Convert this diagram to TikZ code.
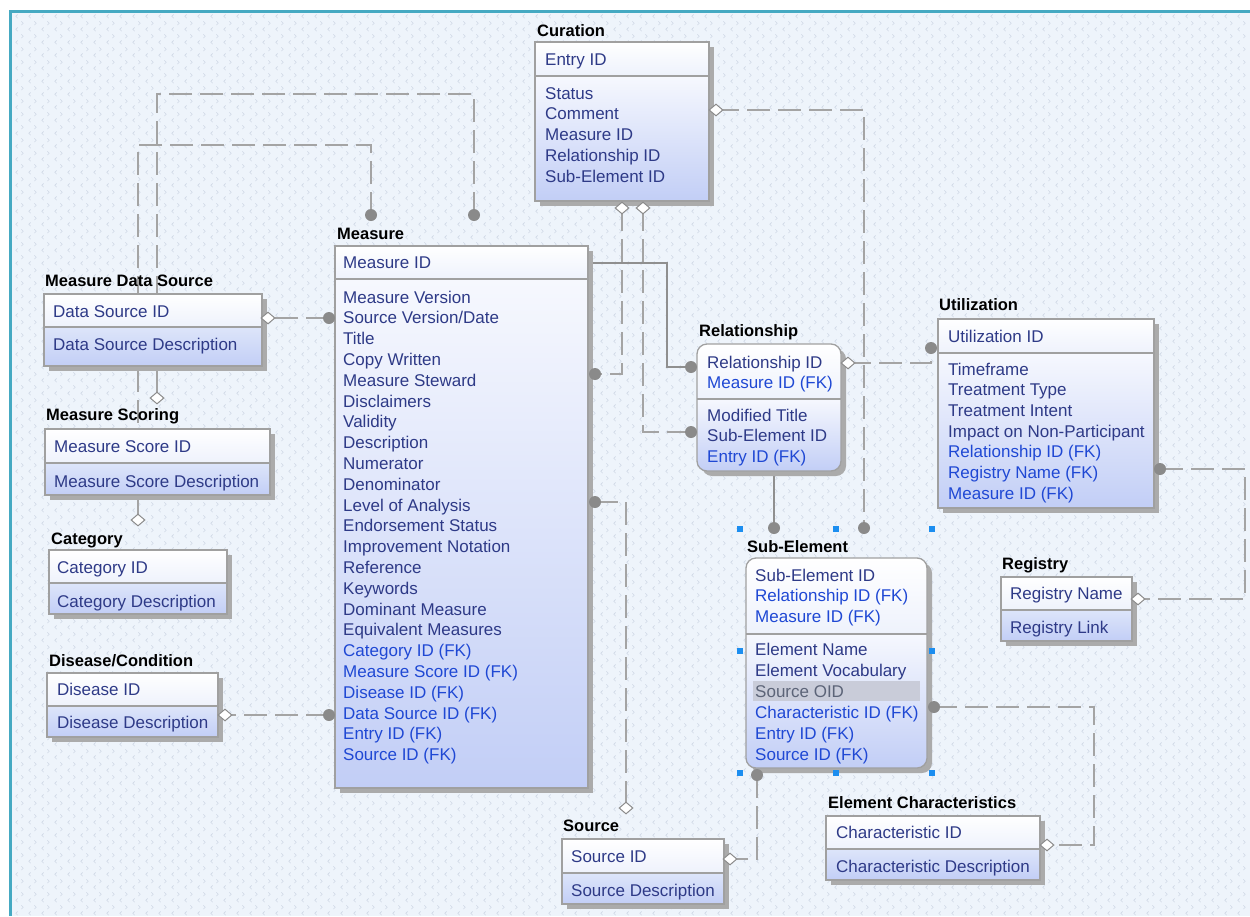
\documentclass[tikz,border=0pt]{standalone}
\usepackage{fontspec}
\setmainfont{Liberation Sans}
\usetikzlibrary{shapes.geometric,patterns}
\definecolor{bgc}{HTML}{EEF4FB}
\definecolor{patc}{HTML}{D0D9E6}
\definecolor{framec}{HTML}{45A9C2}
\definecolor{attrc}{HTML}{2E3A87}
\definecolor{fkc}{HTML}{1F48D4}
\definecolor{oidc}{HTML}{5C6478}
\definecolor{oidbg}{HTML}{C9CCD9}
\definecolor{linec}{HTML}{A4A4A4}
\definecolor{solidc}{HTML}{8F8F8F}
\definecolor{dotc}{HTML}{8A8A8A}
\definecolor{diac}{HTML}{8C8C8C}
\definecolor{boxc}{HTML}{A0A0A0}
\definecolor{shadc}{HTML}{ABABAB}
\definecolor{attrbot}{HTML}{C2CEF6}
\definecolor{keybot}{HTML}{EEF2FC}
\definecolor{bigtop}{HTML}{F6F8FE}
\definecolor{smalltop}{HTML}{DDE5FA}
\definecolor{hdlc}{HTML}{1C8EF0}
\pgfdeclarepatternformonly{chev}{\pgfpoint{0pt}{0pt}}{\pgfpoint{13pt}{13pt}}{\pgfpoint{13pt}{13pt}}{%
  \pgfsetlinewidth{0.7pt}%
  \pgfpathmoveto{\pgfpoint{5pt}{2pt}}\pgfpathlineto{\pgfpoint{3pt}{4pt}}\pgfpathlineto{\pgfpoint{5pt}{6pt}}%
  \pgfpathmoveto{\pgfpoint{9pt}{8.5pt}}\pgfpathlineto{\pgfpoint{11pt}{10.5pt}}\pgfpathlineto{\pgfpoint{9pt}{12.5pt}}%
  \pgfusepath{stroke}}
\newcommand\fk[1]{\textcolor{fkc}{#1}}
\newcommand\gry[1]{\textcolor{oidc}{#1}}
\newcommand\erbox[8]{%
  \fill[shadc, rounded corners=#6] (#1+5,#2+5) rectangle (#3+5,#5+5);
  \begin{scope}
    \clip[rounded corners=#6] (#1,#2) rectangle (#3,#5);
    \fill[top color=white, bottom color=#7] (#1,#2) rectangle (#3,#4);
    \fill[top color=#8, bottom color=attrbot] (#1,#4) rectangle (#3,#5);
  \end{scope}
  \draw[boxc, line width=1.3pt, rounded corners=#6] (#1,#2) rectangle (#3,#5);
  \draw[boxc, line width=1.3pt] (#1,#4) -- (#3,#4);
}
\newcommand\errows[5]{%
  \foreach \t [count=\i from 0] in {#5} {\node[row] (#1\i) at (#2,#3+#4*\i) {\t};}
}
\tikzset{
  fkline/.style={draw=linec, line width=2pt, dash pattern=on 23pt off 8pt},
  idline/.style={draw=solidc, line width=1.6pt},
  dotm/.style={circle, fill=dotc, inner sep=0pt, minimum size=12pt},
  diam/.style={diamond, draw=diac, fill=white, line width=1pt, inner sep=0pt, minimum width=14pt, minimum height=12pt},
  hdl/.style={rectangle, fill=hdlc, inner sep=0pt, minimum size=5.5pt},
  row/.style={anchor=base west, inner sep=0pt, font=\fontsize{17}{20}\selectfont, text=attrc},
  ttl/.style={anchor=base west, inner sep=0pt, font=\fontsize{16.5}{20}\selectfont\bfseries, text=black}
}
\begin{document}
\begin{tikzpicture}[x=1pt, y=-1pt]
\useasboundingbox (0,0) rectangle (1250,916);
% background
\fill[white] (0,0) rectangle (1250,916);
\fill[bgc] (10,11) rectangle (1250,916);
\fill[pattern=chev, pattern color=patc] (11,12) rectangle (1250,916);
\draw[framec, line width=2.2pt] (10.5,916) -- (10.5,11.5) -- (1250,11.5);

% connector end points
\coordinate (mA) at (588,263); \coordinate (kA) at (667,315); \coordinate (relA) at (691,367);
\coordinate (cur1) at (622,208); \coordinate (mB) at (595,374);
\coordinate (cur2) at (643,208); \coordinate (relC) at (691,432);
\coordinate (cur3) at (716,110); \coordinate (subD) at (864,528);
\coordinate (relE) at (774,471); \coordinate (subE) at (774,528);
\coordinate (relF) at (848,363); \coordinate (utF) at (931,348);
\coordinate (utG) at (1160,469); \coordinate (kG) at (1245,530); \coordinate (regG) at (1138,599);
\coordinate (subH) at (934,707); \coordinate (kH) at (1094,780); \coordinate (ecH) at (1047,845);
\coordinate (subI) at (757,775); \coordinate (srcI) at (730,859);
\coordinate (mJ) at (595,502); \coordinate (srcJ) at (626,808);
\coordinate (mK) at (329,318); \coordinate (mdsK) at (268,318);
\coordinate (mL) at (329,715); \coordinate (disL) at (225,715);
\coordinate (mM) at (371,215); \coordinate (kM) at (250,145); \coordinate (catM) at (138,520);
\coordinate (mN) at (474,215); \coordinate (kN) at (300,94); \coordinate (scN) at (157,398);

% connectors
\draw[idline] (mA) -| (kA) |- (relA);
\draw[fkline] (cur1) |- (mB);
\draw[fkline] (cur2) |- (relC);
\draw[fkline] (cur3) -| (subD);
\draw[idline] (relE) -- (subE);
\draw[fkline] (relF) -| (utF);
\draw[fkline] (utG) -| (kG) |- (regG);
\draw[fkline] (subH) -| (kH) |- (ecH);
\draw[fkline] (subI) |- (srcI);
\draw[fkline] (mJ) -| (srcJ);
\draw[fkline] (mK) -- (mdsK);
\draw[fkline] (mL) -- (disL);
\draw[fkline] (mM) |- (kM) -| (catM);
\draw[fkline] (mN) |- (kN) -| (scN);

% entity boxes
\erbox{535}{42}{709}{76}{201}{0pt}{keybot}{bigtop}
\erbox{335}{246}{588}{279}{788}{0pt}{keybot}{bigtop}
\erbox{44}{294}{262}{327}{366}{0pt}{keybot}{smalltop}
\erbox{45}{429}{270}{463}{495}{0pt}{keybot}{smalltop}
\erbox{49}{550}{227}{583}{614}{0pt}{keybot}{smalltop}
\erbox{47}{673}{218}{706}{737}{0pt}{keybot}{smalltop}
\erbox{697}{344}{841}{399}{471}{10pt}{keybot}{bigtop}
\erbox{938}{319}{1154}{353}{508}{0pt}{keybot}{bigtop}
\erbox{746}{558}{927}{634}{768}{10pt}{keybot}{bigtop}
\erbox{1001}{577}{1132}{610}{641}{0pt}{keybot}{smalltop}
\erbox{826}{816}{1040}{849}{880}{0pt}{keybot}{smalltop}
\erbox{562}{839}{724}{873}{904}{0pt}{keybot}{smalltop}
\fill[oidbg] (753,681) rectangle (920,701);

% titles
\node[ttl] (tcur) at (537,36) {Curation};
\node[ttl] (tmea) at (337,239) {Measure};
\node[ttl] (tmds) at (45,286) {Measure Data Source};
\node[ttl] (tsco) at (46,420) {Measure Scoring};
\node[ttl] (tcat) at (51,544) {Category};
\node[ttl] (tdis) at (49,666) {Disease/Condition};
\node[ttl] (trel) at (699,336) {Relationship};
\node[ttl] (tuti) at (939,310) {Utilization};
\node[ttl] (tsub) at (747,552) {Sub-Element};
\node[ttl] (treg) at (1002,569) {Registry};
\node[ttl] (tec) at (828,808) {Element Characteristics};
\node[ttl] (tsrc) at (563,831) {Source};

% rows
\node[row] (curk) at (545,65) {Entry ID};
\errows{cura}{545}{99}{20.8}{Status,Comment,Measure ID,Relationship ID,Sub-Element ID}
\node[row] (meak) at (343,268) {Measure ID};
\errows{meaa}{343}{303}{20.8}{Measure Version,Source Version/Date,Title,Copy Written,Measure Steward,Disclaimers,Validity,Description,Numerator,Denominator,Level of Analysis,Endorsement Status,Improvement Notation,Reference,Keywords,Dominant Measure,Equivalent Measures,\fk{Category ID (FK)},\fk{Measure Score ID (FK)},\fk{Disease ID (FK)},\fk{Data Source ID (FK)},\fk{Entry ID (FK)},\fk{Source ID (FK)}}
\node[row] (mdsk) at (53,317) {Data Source ID};
\node[row] (mdsa) at (53,350) {Data Source Description};
\node[row] (scok) at (54,452) {Measure Score ID};
\node[row] (scoa) at (54,487) {Measure Score Description};
\node[row] (catk) at (57,573) {Category ID};
\node[row] (cata) at (57,607) {Category Description};
\node[row] (disk) at (57,695) {Disease ID};
\node[row] (disa) at (57,728) {Disease Description};
\errows{relk}{707}{368}{20.8}{Relationship ID,\fk{Measure ID (FK)}}
\errows{rela}{707}{421}{20.8}{Modified Title,Sub-Element ID,\fk{Entry ID (FK)}}
\node[row] (utik) at (948,342) {Utilization ID};
\errows{utia}{948}{375}{20.7}{Timeframe,Treatment Type,Treatment Intent,Impact on Non-Participant,\fk{Relationship ID (FK)},\fk{Registry Name (FK)},\fk{Measure ID (FK)}}
\errows{subk}{755}{581}{20.8}{Sub-Element ID,\fk{Relationship ID (FK)},\fk{Measure ID (FK)}}
\errows{suba}{755}{655}{21}{Element Name,Element Vocabulary,\gry{Source OID},\fk{Characteristic ID (FK)},\fk{Entry ID (FK)},\fk{Source ID (FK)}}
\node[row] (regk) at (1010,599) {Registry Name};
\node[row] (rega) at (1010,633) {Registry Link};
\node[row] (eck) at (836,838) {Characteristic ID};
\node[row] (eca) at (836,872) {Characteristic Description};
\node[row] (srck) at (571,862) {Source ID};
\node[row] (srca) at (571,896) {Source Description};

% markers
\foreach \p in {relA,mB,relC,subD,subE,utF,utG,subH,subI,mJ,mK,mL,mM,mN}
  \node[dotm] (dot-\p) at (\p) {};
\foreach \p in {cur1,cur2,cur3,relF,regG,ecH,srcI,srcJ,mdsK,disL,catM,scN}
  \node[diam] (dia-\p) at (\p) {};

% selection handles
\foreach \hx/\hy [count=\j] in {740/529,836/529,932/529,740/651,932/651,740/773,836/773,932/773}
  \node[hdl] (h\j) at (\hx,\hy) {};
\end{tikzpicture}
\end{document}
